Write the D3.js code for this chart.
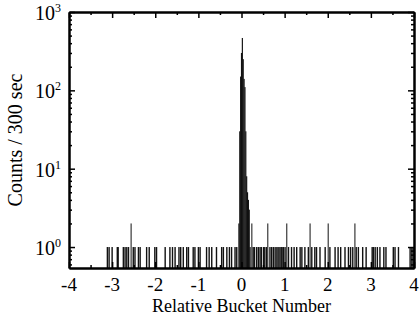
<!DOCTYPE html>
<html>
<head>
<meta charset="utf-8">
<script src="https://cdn.jsdelivr.net/npm/d3@7"></script>
<style>
  body { margin: 0; background: #fff; }
  svg text { font-family: "Liberation Serif", "Times New Roman", serif; fill: #000; }
</style>
</head>
<body>
<svg id="chart" width="420" height="320"></svg>
<script>
// bucket positions (relative bucket number) with a count of 1
const singles = [
  -3.11, -3.07, -3.00, -2.88, -2.86, -2.74, -2.70, -2.66, -2.62, -2.51, -2.47,
  -2.39, -2.35, -2.20, -2.14, -2.01, -1.97, -1.77, -1.66, -1.60, -1.54, -1.45,
  -1.41, -1.35, -1.27, -1.23, -1.12, -1.08, -1.00, -0.96, -0.81, -0.75, -0.69,
  -0.58, -0.46, -0.42, -0.34, -0.28, -0.23, -0.15, -0.11,
  0.27, 0.30, 0.35, 0.39, 0.43, 0.46, 0.51, 0.54, 0.58, 0.66, 0.70, 0.74, 0.78,
  0.82, 0.85, 0.89, 0.92, 0.94, 0.97, 1.01, 1.09, 1.16, 1.22, 1.28, 1.36, 1.40,
  1.47, 1.55, 1.63, 1.70, 1.74, 1.82, 1.94, 2.05, 2.17, 2.24, 2.30, 2.40, 2.48,
  2.53, 2.58, 2.66, 2.71, 2.81, 2.89, 3.03, 3.06, 3.10, 3.15, 3.21, 3.30, 3.35,
  3.52, 3.56, 3.64, 3.91, 3.95, 3.98
];
// bucket positions with a count of 2
const doubles = [-2.56, 0.24, 0.61, 1.05, 1.59, 2.01, 2.63];
// the peak around bucket 0
const peakBins = [-0.06, -0.04, -0.02, 0.00, 0.02, 0.04, 0.06, 0.08, 0.10, 0.12, 0.14, 0.16, 0.18, 0.20];
const peakCounts = [2, 30, 150, 300, 466, 250, 140, 110, 30, 8, 5, 4, 3, 1];

const xTicks = [-4, -3, -2, -1, 0, 1, 2, 3, 4];
const yTicks = [1, 10, 100, 1000];

const margin = { left: 69, right: 414, top: 12, bottom: 268 };
const svg = d3.select('#chart');

const x = d3.scaleLinear().domain([-4, 4]).range([margin.left, margin.right]);
const y = d3.scaleLog().domain([0.54, 1000]).range([margin.bottom, margin.top]);

const bars = [];
singles.forEach(v => bars.push({ v, c: 1, w: 1.4 }));
doubles.forEach(v => bars.push({ v, c: 2, w: 1.0 }));
peakBins.forEach((v, i) => bars.push({ v, c: peakCounts[i], w: x(0.02) - x(0) + 0.3 }));

svg.append('g')
  .attr('class', 'bars')
  .selectAll('rect')
  .data(bars)
  .join('rect')
  .attr('x', d => x(d.v) - d.w / 2)
  .attr('width', d => d.w)
  .attr('y', d => y(d.c))
  .attr('height', d => y.range()[0] - y(d.c))
  .attr('fill', '#111');

// axes with inward ticks
const xMinor = d3.range(-3.5, 4, 1);
const yMinor = [];
[0.1, 1, 10, 100].forEach(p => d3.range(2, 10).forEach(k => {
  const v = p * k;
  if (v > 0.54 && v < 1000) yMinor.push(v);
}));

const drawAxis = (axis, tr) => {
  const g = svg.append('g').attr('transform', tr).call(axis);
  g.selectAll('path.domain').attr('stroke', '#000').attr('stroke-width', 2);
  g.selectAll('.tick line').attr('stroke', '#000').attr('stroke-width', 1.5);
  g.selectAll('.tick text').remove();
  return g;
};

drawAxis(d3.axisBottom(x).tickValues(xTicks).tickSize(-6).tickSizeOuter(0), `translate(0,${margin.bottom})`);
drawAxis(d3.axisBottom(x).tickValues(xMinor).tickSize(-3).tickSizeOuter(0), `translate(0,${margin.bottom})`);
drawAxis(d3.axisTop(x).tickValues(xTicks).tickSize(-6).tickSizeOuter(0), `translate(0,${margin.top})`);
drawAxis(d3.axisTop(x).tickValues(xMinor).tickSize(-3).tickSizeOuter(0), `translate(0,${margin.top})`);
drawAxis(d3.axisLeft(y).tickValues(yTicks).tickSize(-6).tickSizeOuter(0), `translate(${margin.left},0)`);
drawAxis(d3.axisLeft(y).tickValues(yMinor).tickSize(-3).tickSizeOuter(0), `translate(${margin.left},0)`);
drawAxis(d3.axisRight(y).tickValues(yTicks).tickSize(-6).tickSizeOuter(0), `translate(${margin.right},0)`);
drawAxis(d3.axisRight(y).tickValues(yMinor).tickSize(-3).tickSizeOuter(0), `translate(${margin.right},0)`);

// tick labels
svg.append('g')
  .selectAll('text')
  .data(xTicks)
  .join('text')
  .attr('x', d => x(d))
  .attr('y', 291)
  .attr('text-anchor', 'middle')
  .attr('font-size', 19)
  .text(d => d);

const yLab = svg.append('g')
  .selectAll('text')
  .data(yTicks)
  .join('text')
  .attr('x', 61)
  .attr('y', d => y(d) + 8)
  .attr('text-anchor', 'end')
  .attr('font-size', 20);
yLab.append('tspan').text('10');
yLab.append('tspan')
  .attr('dy', -8)
  .attr('font-size', 12)
  .text(d => Math.round(Math.log10(d)));

// axis titles
svg.append('text')
  .attr('x', x(0))
  .attr('y', 312)
  .attr('text-anchor', 'middle')
  .attr('font-size', 18)
  .text('Relative Bucket Number');

svg.append('text')
  .attr('transform', `translate(22,${(margin.top + margin.bottom) / 2}) rotate(-90)`)
  .attr('text-anchor', 'middle')
  .attr('font-size', 20)
  .text('Counts / 300 sec');
</script>
</body>
</html>
